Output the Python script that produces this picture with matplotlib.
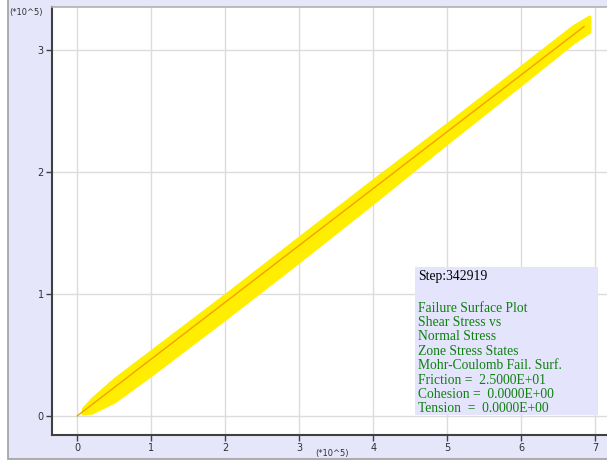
import matplotlib.pyplot as plt
from matplotlib.patches import Rectangle

# values (units: *10^5 / *10^5)
band_x = [0.08, 0.2, 0.5, 1.0, 2.0, 3.0, 4.0, 5.0, 6.0, 6.7, 6.92]
band_top = [0.06, 0.14, 0.30, 0.53, 0.99, 1.46, 1.93, 2.39, 2.86, 3.19, 3.27]
band_bottom = [0.02, 0.03, 0.12, 0.34, 0.80, 1.27, 1.75, 2.24, 2.72, 3.06, 3.15]
surf_x = [0.0, 6.85]
surf_y = [0.0, 3.19]
x_ticks = [0, 1, 2, 3, 4, 5, 6, 7]
y_ticks = [0, 1, 2, 3]

info_head = "Step:342919"
info_lines = [
    "Failure Surface Plot",
    "Shear Stress vs",
    "Normal Stress",
    "Zone Stress States",
    "Mohr-Coulomb Fail. Surf.",
    "Friction =  2.5000E+01",
    "Cohesion =  0.0000E+00",
    "Tension  =  0.0000E+00",
]

W, H = 607, 461
fig = plt.figure(figsize=(W / 100, H / 100), dpi=100)
fig.patch.set_facecolor("white")

# lavender frame behind everything
fig.patches.append(Rectangle((8 / W, 2 / H), 1, 1, transform=fig.transFigure,
                             facecolor="#E6E6FA", edgecolor="#A0A0A0", lw=1.2, zorder=-5))

ax = fig.add_axes([52 / W, (H - 435) / H, 1 - 52 / W, (435 - 7) / H])
ax.set_facecolor("white")
ax.set_xlim(-0.34, 7.16)
ax.set_ylim(-0.156, 3.35)

ax.fill_between(band_x, band_bottom, band_top, color="#FFEE00", lw=2.5,
                edgecolor="#FFEE00", zorder=2)
ax.plot(surf_x, surf_y, color="#F5A000", lw=1.0, zorder=3)

ax.set_xticks(x_ticks)
ax.set_yticks(y_ticks)
ax.grid(True, color="#DCDCDC", lw=1.0, zorder=0)
ax.set_axisbelow(True)
ax.tick_params(direction="out", length=4, width=1, color="#404040",
               labelsize=7, labelcolor="#303030", pad=2)

for s in ["left", "bottom"]:
    ax.spines[s].set_color("#404040")
    ax.spines[s].set_linewidth(1.5)
ax.spines["top"].set_color("#B0B0B0")
ax.spines["top"].set_linewidth(1.2)
ax.spines["right"].set_visible(False)

fig.text(9 / W, 1 - 12 / H, "(*10^5)", fontsize=6, color="#303030",
         va="center", ha="left")
fig.text(332 / W, 1 - 453 / H, "(*10^5)", fontsize=6, color="#303030",
         va="center", ha="center")

# info box
fig.patches.append(Rectangle((415 / W, 1 - 415 / H), 183 / W, 148 / H,
                             transform=fig.transFigure, facecolor="#E4E4FC",
                             edgecolor="none", zorder=5))
fig.text(418 / W, 1 - 276 / H, info_head, fontsize=9.8, family="Liberation Serif",
         color="black", va="center", ha="left", zorder=6)
for i, line in enumerate(info_lines):
    fig.text(418 / W, 1 - (308 + i * 14.4) / H, line, fontsize=9.8,
             family="Liberation Serif", color="#108010", va="center",
             ha="left", zorder=6)

fig.savefig("out.png", dpi=100)
